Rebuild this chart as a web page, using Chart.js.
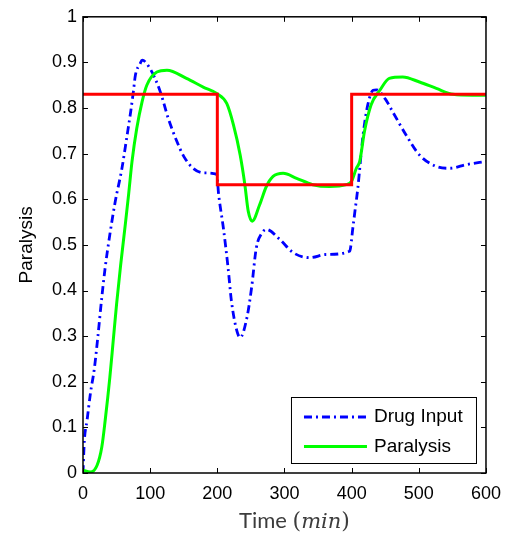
<!DOCTYPE html>
<html>
<head>
<meta charset="utf-8">
<script src="https://cdn.jsdelivr.net/npm/chart.js@4"></script>
<style>
  html, body { margin: 0; padding: 0; background: #fff; }
  #wrap { width: 511px; height: 538px; }
</style>
</head>
<body>
<div id="wrap"><canvas id="myChart" width="511" height="538"></canvas></div>
<script>
// reference level (red step)
const refTime = [0, 200, 400, 600];
const refLevel = [0.83, 0.632, 0.83, 0.83];

// drug input (blue dash-dot)
const drugTime = [0, 2, 6, 11, 17, 22, 28, 33, 40, 48, 58, 65, 71, 75, 78, 85, 88, 100, 115, 127, 140, 150, 164, 179, 199,
    202, 209, 216, 221, 229, 234, 244, 251, 258, 266, 273, 293, 313, 338, 362, 397, 402, 405, 409, 417, 424, 432, 437,
    450, 461, 481, 501, 526, 546, 571, 600];
const drugValue = [0, 0.07, 0.115, 0.174, 0.23, 0.297, 0.385, 0.45, 0.523, 0.595, 0.668, 0.734, 0.792, 0.836, 0.872, 0.897,
    0.905, 0.886, 0.836, 0.777, 0.726, 0.694, 0.668, 0.658, 0.655, 0.61, 0.537, 0.45, 0.377, 0.312, 0.297, 0.34, 0.406,
    0.493, 0.525, 0.534, 0.512, 0.483, 0.472, 0.479, 0.486, 0.54, 0.575, 0.622, 0.741, 0.807, 0.839, 0.84, 0.82, 0.792,
    0.741, 0.697, 0.672, 0.668, 0.676, 0.683];

// paralysis (green)
const parTime = [0, 11, 21, 28, 33, 40, 45, 50, 56, 63, 68, 73, 80, 88, 95, 110, 125, 154, 179, 199, 214, 224, 234, 241,
    246, 252, 263, 273, 283, 298, 318, 342, 367, 392, 400, 407, 412, 419, 429, 442, 456, 476, 501, 526, 551, 580, 600];
const parValue = [0.006, 0.002, 0.017, 0.057, 0.115, 0.21, 0.29, 0.37, 0.455, 0.545, 0.612, 0.683, 0.755, 0.814, 0.85,
    0.879, 0.883, 0.865, 0.846, 0.832, 0.81, 0.763, 0.697, 0.632, 0.574, 0.552, 0.588, 0.628, 0.65, 0.657, 0.646, 0.632,
    0.628, 0.632, 0.64, 0.668, 0.683, 0.748, 0.807, 0.839, 0.865, 0.868, 0.857, 0.843, 0.83, 0.828, 0.828];

const xTicks = [0, 100, 200, 300, 400, 500, 600];
const yTicks = [0, 0.1, 0.2, 0.3, 0.4, 0.5, 0.6, 0.7, 0.8, 0.9, 1];

function pts(xs, ys) {
    return xs.map(function (x, i) { return { x: x, y: ys[i] }; });
}

const sansFont = "'Liberation Sans', Arial, sans-serif";

// box + inward ticks on all four sides
const boxTicks = {
    id: 'boxTicks',
    afterDatasetsDraw(chart) {
        const ctx = chart.ctx;
        const a = chart.chartArea;
        const xs = chart.scales.x, ys = chart.scales.y;
        const len = 5;
        ctx.save();
        ctx.strokeStyle = '#000';
        ctx.lineWidth = 1;
        ctx.beginPath();
        xTicks.forEach(function (v) {
            const px = Math.round(xs.getPixelForValue(v)) + 0.5;
            ctx.moveTo(px, a.bottom); ctx.lineTo(px, a.bottom - len);
            ctx.moveTo(px, a.top); ctx.lineTo(px, a.top + len);
        });
        yTicks.forEach(function (v) {
            const py = Math.round(ys.getPixelForValue(v)) + 0.5;
            ctx.moveTo(a.left, py); ctx.lineTo(a.left + len, py);
            ctx.moveTo(a.right, py); ctx.lineTo(a.right - len, py);
        });
        ctx.stroke();
        ctx.lineWidth = 1.5;
        ctx.strokeRect(a.left, a.top, a.right - a.left, a.bottom - a.top);
        ctx.restore();
    }
};

// legend box in the lower right corner of the plot
const innerLegend = {
    id: 'innerLegend',
    afterDraw(chart) {
        const ctx = chart.ctx;
        const a = chart.chartArea;
        const items = chart.data.datasets.filter(function (d) { return d.label; }).reverse();
        const w = 185, h = 66;
        const x0 = a.right - 10 - w, y0 = a.bottom - 10 - h;
        ctx.save();
        ctx.fillStyle = '#fff';
        ctx.fillRect(x0, y0, w, h);
        ctx.strokeStyle = '#000';
        ctx.lineWidth = 1;
        ctx.strokeRect(x0 + 0.5, y0 + 0.5, w, h);
        ctx.font = '19px ' + sansFont;
        ctx.textBaseline = 'middle';
        items.forEach(function (d, i) {
            const cy = y0 + 20 + i * 29.5;
            ctx.strokeStyle = d.borderColor;
            ctx.lineWidth = d.borderWidth;
            ctx.setLineDash(d.borderDash || []);
            ctx.beginPath();
            ctx.moveTo(x0 + 13, cy);
            ctx.lineTo(x0 + 76, cy);
            ctx.stroke();
            ctx.setLineDash([]);
            ctx.fillStyle = '#000';
            ctx.fillText(d.label, x0 + 83, cy);
        });
        ctx.restore();
    }
};

// x axis title: "Time (min)" with math italic unit
const xTitle = {
    id: 'xTitle',
    afterDraw(chart) {
        const ctx = chart.ctx;
        const a = chart.chartArea;
        const partA = 'Time ';
        const partB = '(';
        const partC = 'min';
        const partD = ')';
        const fA = '22px Lato, "Open Sans", sans-serif';
        const fB = '22px "DejaVu Serif", "Liberation Serif", serif';
        const fC = 'italic 21px "DejaVu Serif", "Liberation Serif", serif';
        ctx.save();
        ctx.font = fA; const wA = ctx.measureText(partA).width;
        ctx.font = fB; const wB = ctx.measureText(partB).width; const wD = ctx.measureText(partD).width;
        ctx.font = fC; const wC = ctx.measureText(partC).width;
        const total = wA + wB + wC + wD;
        let x = (a.left + a.right) / 2 + 10 - total / 2;
        const y = 528;
        ctx.fillStyle = '#3c3c3c';
        ctx.textBaseline = 'alphabetic';
        ctx.font = fA; ctx.fillText(partA, x, y); x += wA;
        ctx.font = fB; ctx.fillText(partB, x, y); x += wB;
        ctx.font = fC; ctx.fillText(partC, x, y); x += wC;
        ctx.font = fB; ctx.fillText(partD, x, y);
        ctx.restore();
    }
};

const config = {
    type: 'line',
    data: {
        datasets: [{
            label: '',
            data: pts(refTime, refLevel),
            borderColor: 'rgb(255, 0, 0)',
            borderWidth: 3,
            stepped: 'before',
            pointRadius: 0,
            fill: false
        }, {
            label: 'Paralysis',
            data: pts(parTime, parValue),
            borderColor: 'rgb(0, 255, 0)',
            borderWidth: 3,
            cubicInterpolationMode: 'monotone',
            pointRadius: 0,
            fill: false
        }, {
            label: 'Drug Input',
            data: pts(drugTime, drugValue),
            borderColor: 'rgb(0, 0, 255)',
            borderWidth: 2.8,
            borderDash: [8, 4, 2, 4],
            cubicInterpolationMode: 'monotone',
            pointRadius: 0,
            fill: false
        }]
    },
    options: {
        responsive: false,
        animation: false,
        events: [],
        layout: { padding: { top: 15, right: 24, left: 0, bottom: 0 } },
        plugins: {
            legend: { display: false },
            tooltip: { enabled: false }
        },
        scales: {
            x: {
                type: 'linear',
                min: 0,
                max: 600,
                afterBuildTicks: function (scale) {
                    scale.ticks = xTicks.map(function (v) { return { value: v }; });
                },
                afterFit: function (scale) { scale.height = 65; },
                grid: { display: false, drawTicks: false },
                border: { display: false },
                ticks: {
                    color: '#000',
                    padding: 10,
                    maxRotation: 0,
                    autoSkip: false,
                    font: { family: sansFont, size: 18 }
                }
            },
            y: {
                type: 'linear',
                min: 0,
                max: 1,
                afterBuildTicks: function (scale) {
                    scale.ticks = yTicks.map(function (v) { return { value: v }; });
                },
                afterFit: function (scale) { scale.width = 83; },
                grid: { display: false, drawTicks: false },
                border: { display: false },
                ticks: {
                    color: '#000',
                    padding: 6,
                    autoSkip: false,
                    font: { family: sansFont, size: 18 },
                    callback: function (v) { return String(Math.round(v * 10) / 10); }
                },
                title: {
                    display: true,
                    text: 'Paralysis',
                    color: '#000',
                    padding: { top: 15, bottom: 0 },
                    font: { family: sansFont, size: 19 }
                }
            }
        }
    },
    plugins: [boxTicks, innerLegend, xTitle]
};

const myChart = new Chart(document.getElementById('myChart'), config);
</script>
</body>
</html>
